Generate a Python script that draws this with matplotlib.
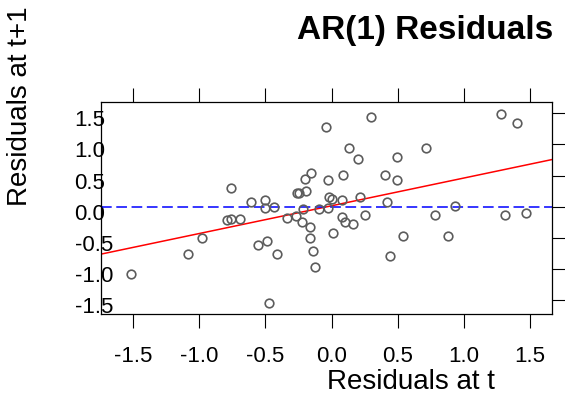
import numpy as np
import matplotlib
matplotlib.use("Agg")
import matplotlib.pyplot as plt
from matplotlib.transforms import ScaledTranslation

plt.rcParams['font.family'] = ['Liberation Sans', 'DejaVu Sans']

# Lag-1 pairs of AR(1) model residuals: e[t] against e[t+1]
resid_t = [-1.519, -1.088, -0.980, -0.763, -0.788, -0.761, -0.693, -0.612, -0.504, -0.504,
           -0.436, -0.559, -0.486, -0.410, -0.476, -0.262, -0.246, -0.191, -0.197, -0.153,
           -0.333, -0.272, -0.221, -0.212, -0.166, -0.166, -0.140, -0.125, -0.045, 0.295,
           0.131, 0.199, 0.497, -0.030, 0.088, 0.403, 0.497, -0.020, 0.000, 0.081,
           0.212, 0.416, -0.096, -0.030, 0.076, 0.101, 0.159, 0.255, 0.010, 0.539,
           0.442, 0.713, 1.280, 1.404, 0.781, 0.930, 1.310, 1.472, 0.877]
resid_t1 = [-1.081, -0.768, -0.508, 0.304, -0.222, -0.195, -0.195, 0.076, 0.104, -0.016,
            -0.010, -0.622, -0.557, -0.768, -1.547, 0.214, 0.218, 0.247, 0.449, 0.539,
            -0.183, -0.156, -0.243, -0.037, -0.334, -0.502, -0.708, -0.968, 1.289, 1.435,
            0.946, 0.763, 0.795, 0.422, 0.510, 0.511, 0.425, 0.162, 0.125, 0.104,
            0.162, 0.076, -0.032, -0.021, -0.159, -0.243, -0.276, -0.130, -0.422, -0.476,
            -0.794, 0.945, 1.494, 1.347, -0.130, 0.011, -0.130, -0.102, -0.476]

tick_vals = [-1.5, -1.0, -0.5, 0.0, 0.5, 1.0, 1.5]
tick_labels = ["-1.5", "-1.0", "-0.5", "0.0", "0.5", "1.0", "1.5"]

x = np.asarray(resid_t)
y = np.asarray(resid_t1)
slope, intercept = np.polyfit(x, y, 1)

fig = plt.figure(figsize=(5.65, 3.96), dpi=100)
ax = fig.add_axes([101 / 565, 1 - 314.3 / 396, 451 / 565, 212.6 / 396])
ax.set_xlim(-1.742, 1.666)
ax.set_ylim(-1.732, 1.688)

ax.plot(x, y, linestyle='none', marker='o', markersize=6.2, markerfacecolor='none',
        markeredgecolor='#5c5c5c', markeredgewidth=1.2, zorder=3)

xs = np.array(ax.get_xlim())
ax.plot(xs, intercept + slope * xs, color='#ff0000', linewidth=1.1, zorder=2)
ax.axhline(0.0, color='#0000ff', linewidth=1.1, linestyle=(0, (7.0, 3.0)), zorder=2)

for side in ax.spines.values():
    side.set_linewidth(0.9)
    side.set_color('black')

ax.set_xticks(tick_vals)
ax.set_xticklabels(tick_labels)
ax.set_yticks(tick_vals)
ax.set_yticklabels(tick_labels)

ax.tick_params(axis='x', which='both', direction='out', length=10, width=0.8,
               top=True, bottom=True, labeltop=False, labelbottom=True,
               labelsize=16, pad=13)
ax.tick_params(axis='y', which='both', direction='out', length=10, width=0.8,
               left=False, right=True, labelleft=True, labelright=False,
               labelsize=16, pad=9)
fig.canvas.draw()
shift = ScaledTranslation(0, -5 / 100, fig.dpi_scale_trans)
for lab in ax.get_yticklabels():
    lab.set_horizontalalignment('left')
    lab.set_transform(lab.get_transform() + shift)

ax.set_xlabel("Residuals at t", fontsize=20)
ax.xaxis.label.set_verticalalignment('baseline')
ax.xaxis.set_label_coords(0.688, -0.351)
ax.set_ylabel("Residuals at t+1", fontsize=20)
ax.yaxis.label.set_verticalalignment('center')
ax.yaxis.set_label_coords(-0.1796, 0.977)

fig.text(553 / 565, 1 - 39 / 396, "AR(1) Residuals", ha='right', va='baseline',
         fontsize=24, fontweight='bold')

fig.savefig("out.png", dpi=100)
